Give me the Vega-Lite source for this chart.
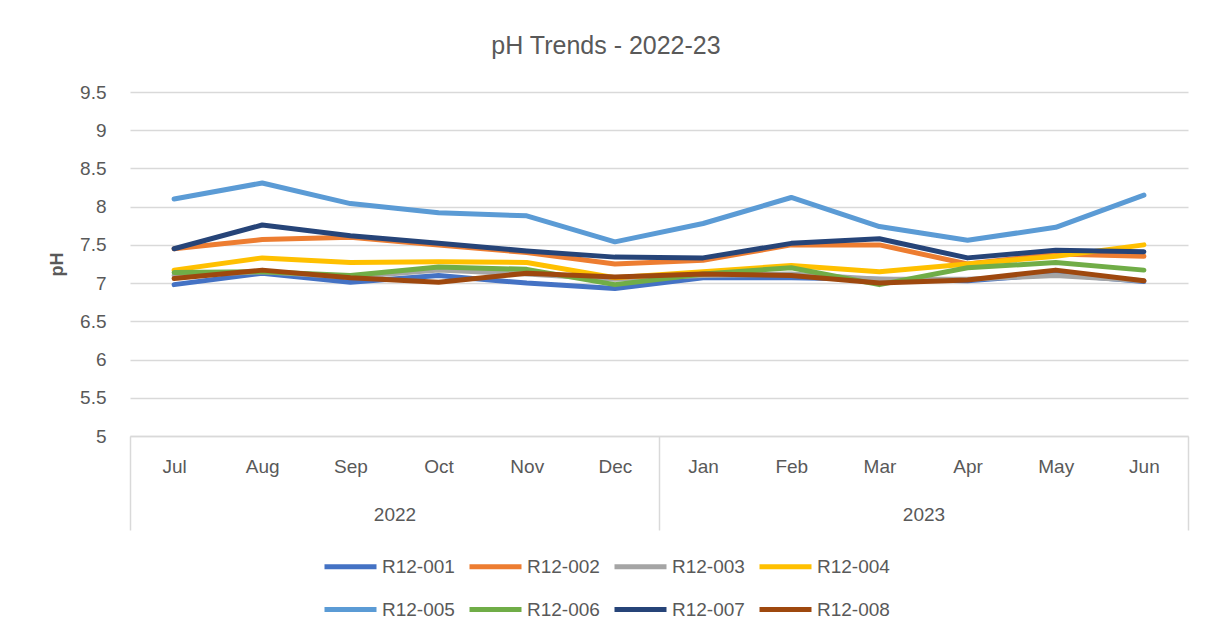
{
  "$schema": "https://vega.github.io/schema/vega-lite/v6.json",
  "autosize": {"type": "none"},
  "width": 1058,
  "height": 344,
  "padding": {"left": 130, "top": 92, "right": 24, "bottom": 206},
  "background": "white",
  "config": {
    "font": "Liberation Sans",
    "view": {"stroke": null}
  },
  "title": {
    "text": "pH Trends - 2022-23",
    "anchor": "middle",
    "frame": "group",
    "dx": -53,
    "offset": 12,
    "baseline": "middle",
    "fontSize": 25,
    "fontWeight": "normal",
    "color": "#595959",
    "font": "Liberation Sans"
  },
  "data": {
    "values": [
      {"series": "R12-001", "year": "2022", "month": "Jul", "pH": 6.98},
      {"series": "R12-001", "year": "2022", "month": "Aug", "pH": 7.13},
      {"series": "R12-001", "year": "2022", "month": "Sep", "pH": 7.01},
      {"series": "R12-001", "year": "2022", "month": "Oct", "pH": 7.1},
      {"series": "R12-001", "year": "2022", "month": "Nov", "pH": 7.0},
      {"series": "R12-001", "year": "2022", "month": "Dec", "pH": 6.93},
      {"series": "R12-001", "year": "2023", "month": "Jan", "pH": 7.07},
      {"series": "R12-001", "year": "2023", "month": "Feb", "pH": 7.07},
      {"series": "R12-001", "year": "2023", "month": "Mar", "pH": 7.05},
      {"series": "R12-001", "year": "2023", "month": "Apr", "pH": 7.03},
      {"series": "R12-001", "year": "2023", "month": "May", "pH": 7.12},
      {"series": "R12-001", "year": "2023", "month": "Jun", "pH": 7.02},
      {"series": "R12-002", "year": "2022", "month": "Jul", "pH": 7.45},
      {"series": "R12-002", "year": "2022", "month": "Aug", "pH": 7.57},
      {"series": "R12-002", "year": "2022", "month": "Sep", "pH": 7.6},
      {"series": "R12-002", "year": "2022", "month": "Oct", "pH": 7.5},
      {"series": "R12-002", "year": "2022", "month": "Nov", "pH": 7.4},
      {"series": "R12-002", "year": "2022", "month": "Dec", "pH": 7.25},
      {"series": "R12-002", "year": "2023", "month": "Jan", "pH": 7.3},
      {"series": "R12-002", "year": "2023", "month": "Feb", "pH": 7.5},
      {"series": "R12-002", "year": "2023", "month": "Mar", "pH": 7.5},
      {"series": "R12-002", "year": "2023", "month": "Apr", "pH": 7.25},
      {"series": "R12-002", "year": "2023", "month": "May", "pH": 7.38},
      {"series": "R12-002", "year": "2023", "month": "Jun", "pH": 7.35},
      {"series": "R12-003", "year": "2022", "month": "Jul", "pH": 7.1},
      {"series": "R12-003", "year": "2022", "month": "Aug", "pH": 7.15},
      {"series": "R12-003", "year": "2022", "month": "Sep", "pH": 7.08},
      {"series": "R12-003", "year": "2022", "month": "Oct", "pH": 7.17},
      {"series": "R12-003", "year": "2022", "month": "Nov", "pH": 7.12},
      {"series": "R12-003", "year": "2022", "month": "Dec", "pH": 7.05},
      {"series": "R12-003", "year": "2023", "month": "Jan", "pH": 7.1},
      {"series": "R12-003", "year": "2023", "month": "Feb", "pH": 7.12},
      {"series": "R12-003", "year": "2023", "month": "Mar", "pH": 7.05},
      {"series": "R12-003", "year": "2023", "month": "Apr", "pH": 7.05},
      {"series": "R12-003", "year": "2023", "month": "May", "pH": 7.1},
      {"series": "R12-003", "year": "2023", "month": "Jun", "pH": 7.03},
      {"series": "R12-004", "year": "2022", "month": "Jul", "pH": 7.17},
      {"series": "R12-004", "year": "2022", "month": "Aug", "pH": 7.33},
      {"series": "R12-004", "year": "2022", "month": "Sep", "pH": 7.27},
      {"series": "R12-004", "year": "2022", "month": "Oct", "pH": 7.28},
      {"series": "R12-004", "year": "2022", "month": "Nov", "pH": 7.27},
      {"series": "R12-004", "year": "2022", "month": "Dec", "pH": 7.07},
      {"series": "R12-004", "year": "2023", "month": "Jan", "pH": 7.15},
      {"series": "R12-004", "year": "2023", "month": "Feb", "pH": 7.23},
      {"series": "R12-004", "year": "2023", "month": "Mar", "pH": 7.15},
      {"series": "R12-004", "year": "2023", "month": "Apr", "pH": 7.25},
      {"series": "R12-004", "year": "2023", "month": "May", "pH": 7.35},
      {"series": "R12-004", "year": "2023", "month": "Jun", "pH": 7.5},
      {"series": "R12-005", "year": "2022", "month": "Jul", "pH": 8.1},
      {"series": "R12-005", "year": "2022", "month": "Aug", "pH": 8.31},
      {"series": "R12-005", "year": "2022", "month": "Sep", "pH": 8.04},
      {"series": "R12-005", "year": "2022", "month": "Oct", "pH": 7.92},
      {"series": "R12-005", "year": "2022", "month": "Nov", "pH": 7.88},
      {"series": "R12-005", "year": "2022", "month": "Dec", "pH": 7.54},
      {"series": "R12-005", "year": "2023", "month": "Jan", "pH": 7.78},
      {"series": "R12-005", "year": "2023", "month": "Feb", "pH": 8.12},
      {"series": "R12-005", "year": "2023", "month": "Mar", "pH": 7.74},
      {"series": "R12-005", "year": "2023", "month": "Apr", "pH": 7.56},
      {"series": "R12-005", "year": "2023", "month": "May", "pH": 7.73},
      {"series": "R12-005", "year": "2023", "month": "Jun", "pH": 8.15},
      {"series": "R12-006", "year": "2022", "month": "Jul", "pH": 7.14},
      {"series": "R12-006", "year": "2022", "month": "Aug", "pH": 7.15},
      {"series": "R12-006", "year": "2022", "month": "Sep", "pH": 7.1},
      {"series": "R12-006", "year": "2022", "month": "Oct", "pH": 7.21},
      {"series": "R12-006", "year": "2022", "month": "Nov", "pH": 7.18},
      {"series": "R12-006", "year": "2022", "month": "Dec", "pH": 6.98},
      {"series": "R12-006", "year": "2023", "month": "Jan", "pH": 7.12},
      {"series": "R12-006", "year": "2023", "month": "Feb", "pH": 7.2},
      {"series": "R12-006", "year": "2023", "month": "Mar", "pH": 6.98},
      {"series": "R12-006", "year": "2023", "month": "Apr", "pH": 7.2},
      {"series": "R12-006", "year": "2023", "month": "May", "pH": 7.27},
      {"series": "R12-006", "year": "2023", "month": "Jun", "pH": 7.17},
      {"series": "R12-007", "year": "2022", "month": "Jul", "pH": 7.45},
      {"series": "R12-007", "year": "2022", "month": "Aug", "pH": 7.76},
      {"series": "R12-007", "year": "2022", "month": "Sep", "pH": 7.62},
      {"series": "R12-007", "year": "2022", "month": "Oct", "pH": 7.52},
      {"series": "R12-007", "year": "2022", "month": "Nov", "pH": 7.42},
      {"series": "R12-007", "year": "2022", "month": "Dec", "pH": 7.34},
      {"series": "R12-007", "year": "2023", "month": "Jan", "pH": 7.33},
      {"series": "R12-007", "year": "2023", "month": "Feb", "pH": 7.52},
      {"series": "R12-007", "year": "2023", "month": "Mar", "pH": 7.58},
      {"series": "R12-007", "year": "2023", "month": "Apr", "pH": 7.33},
      {"series": "R12-007", "year": "2023", "month": "May", "pH": 7.43},
      {"series": "R12-007", "year": "2023", "month": "Jun", "pH": 7.41},
      {"series": "R12-008", "year": "2022", "month": "Jul", "pH": 7.06},
      {"series": "R12-008", "year": "2022", "month": "Aug", "pH": 7.17},
      {"series": "R12-008", "year": "2022", "month": "Sep", "pH": 7.07},
      {"series": "R12-008", "year": "2022", "month": "Oct", "pH": 7.01},
      {"series": "R12-008", "year": "2022", "month": "Nov", "pH": 7.13},
      {"series": "R12-008", "year": "2022", "month": "Dec", "pH": 7.08},
      {"series": "R12-008", "year": "2023", "month": "Jan", "pH": 7.12},
      {"series": "R12-008", "year": "2023", "month": "Feb", "pH": 7.1},
      {"series": "R12-008", "year": "2023", "month": "Mar", "pH": 7.0},
      {"series": "R12-008", "year": "2023", "month": "Apr", "pH": 7.04},
      {"series": "R12-008", "year": "2023", "month": "May", "pH": 7.17},
      {"series": "R12-008", "year": "2023", "month": "Jun", "pH": 7.03}
    ]
  },
  "encoding": {
    "y": {
      "field": "pH",
      "type": "quantitative",
      "scale": {"domain": [5, 9.5], "nice": false, "zero": false},
      "axis": {
        "title": "pH",
        "titleFontSize": 18,
        "titleFontWeight": "bold",
        "titleColor": "#595959",
        "titlePadding": 13,
        "values": [5, 5.5, 6, 6.5, 7, 7.5, 8, 8.5, 9, 9.5],
        "labelExpr": "'' + datum.value",
        "labelOverlap": false,
        "labelFontSize": 19,
        "labelColor": "#595959",
        "labelPadding": 24,
        "ticks": false,
        "domain": false,
        "grid": true,
        "gridColor": "#d9d9d9",
        "gridWidth": 1.5
      }
    }
  },
  "layer": [
    {
      "mark": {"type": "line", "strokeWidth": 5, "strokeCap": "round", "strokeJoin": "round"},
      "encoding": {
        "x": {
          "field": "month",
          "type": "ordinal",
          "sort": ["Jul", "Aug", "Sep", "Oct", "Nov", "Dec", "Jan", "Feb", "Mar", "Apr", "May", "Jun"],
          "scale": {"type": "point", "padding": 0.5},
          "axis": {
            "orient": "bottom",
            "title": null,
            "labelAngle": 0,
            "ticks": false,
            "grid": false,
            "domain": true,
            "domainColor": "#d9d9d9",
            "domainWidth": 1.5,
            "labelPadding": 21,
            "labelFontSize": 19,
            "labelColor": "#595959",
            "labelFont": "Liberation Sans"
          }
        },
        "color": {
          "field": "series",
          "type": "nominal",
          "scale": {
            "domain": ["R12-001", "R12-002", "R12-003", "R12-004", "R12-005", "R12-006", "R12-007", "R12-008"],
            "range": ["#4472C4", "#ED7D31", "#A5A5A5", "#FFC000", "#5B9BD5", "#70AD47", "#264478", "#9E480E"]
          },
          "legend": {
            "title": null,
            "orient": "none",
            "legendX": 192,
            "legendY": 446,
            "direction": "horizontal",
            "columns": 4,
            "symbolType": "stroke",
            "symbolStrokeWidth": 5,
            "symbolSize": 2704,
            "labelFontSize": 19,
            "labelColor": "#595959",
            "labelOffset": 3,
            "columnPadding": 4,
            "rowPadding": 4
          }
        }
      }
    },
    {
      "mark": {"type": "point", "opacity": 0},
      "encoding": {
        "x": {
          "field": "year",
          "type": "nominal",
          "scale": {"type": "band", "paddingInner": 0, "paddingOuter": 0},
          "axis": {
            "orient": "bottom",
            "title": null,
            "labelAngle": 0,
            "domain": false,
            "grid": false,
            "ticks": true,
            "tickBand": "extent",
            "tickSize": 94,
            "tickColor": "#d9d9d9",
            "tickWidth": 1.5,
            "labelPadding": -25,
            "labelFontSize": 19,
            "labelColor": "#595959"
          }
        }
      }
    }
  ],
  "resolve": {"scale": {"x": "independent"}}
}
